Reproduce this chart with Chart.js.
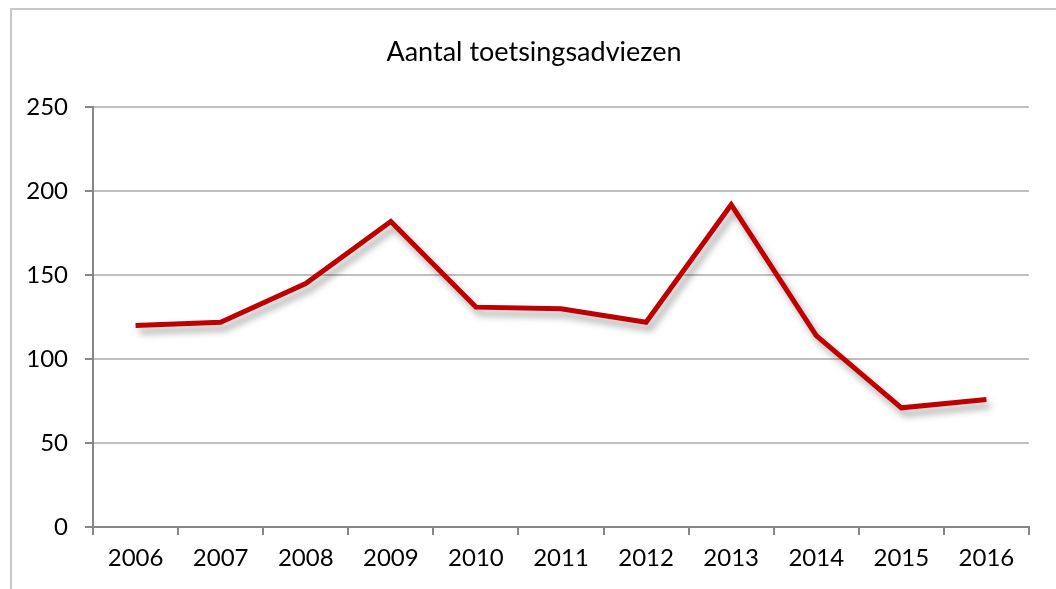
<!DOCTYPE html>
<html>
<head>
<meta charset="utf-8">
<script src="https://cdn.jsdelivr.net/npm/chart.js@4"></script>
<style>
  html, body { margin: 0; padding: 0; background: #fff; }
  #wrap { width: 1056px; height: 589px; }
</style>
</head>
<body>
<div id="wrap"><canvas id="chart" width="1056" height="589"></canvas></div>
<script>
const years = ['2006', '2007', '2008', '2009', '2010', '2011', '2012', '2013', '2014', '2015', '2016'];
const adviezen = [120, 122, 145, 182, 131, 130, 122, 192, 114, 71, 76];
const yTicks = [0, 50, 100, 150, 200, 250];

const fontFamily = 'Lato, "Open Sans", sans-serif';

// light frame round the whole chart
const framePlugin = {
  id: 'frame',
  beforeDraw(chart) {
    const ctx = chart.ctx;
    ctx.save();
    ctx.strokeStyle = '#c8c8c8';
    ctx.lineWidth = 2;
    ctx.strokeRect(11, 9, 1200, 800);
    ctx.restore();
  }
};

// soft shadow under the line
const shadowPlugin = {
  id: 'lineShadow',
  beforeDatasetsDraw(chart) {
    const ctx = chart.ctx;
    ctx.save();
    ctx.shadowColor = 'rgba(0,0,0,0.35)';
    ctx.shadowBlur = 7;
    ctx.shadowOffsetX = 4;
    ctx.shadowOffsetY = 6;
  },
  afterDatasetsDraw(chart) {
    chart.ctx.restore();
  }
};

new Chart(document.getElementById('chart'), {
  type: 'line',
  data: {
    labels: years,
    datasets: [{
      label: 'Aantal toetsingsadviezen',
      data: adviezen,
      borderColor: '#c00000',
      borderWidth: 5,
      borderJoinStyle: 'miter',
      tension: 0,
      pointRadius: 0,
      fill: false
    }]
  },
  options: {
    responsive: false,
    animation: false,
    layout: { padding: { left: 12, right: 0, top: 0, bottom: 0 } },
    plugins: {
      legend: { display: false },
      tooltip: { enabled: false },
      title: {
        display: true,
        text: 'Aantal toetsingsadviezen',
        color: '#000',
        font: { family: fontFamily, size: 27, weight: 'normal' },
        padding: { top: 36, bottom: 39 }
      }
    },
    scales: {
      x: {
        offset: true,
        grid: {
          offset: true,
          drawOnChartArea: true,
          color: ctx => ctx.index === years.length ? '#bfbfbf' : 'rgba(0,0,0,0)',
          lineWidth: 2,
          tickColor: '#878787',
          tickLength: 8
        },
        border: { color: '#878787', width: 2 },
        ticks: {
          color: '#000',
          font: { family: fontFamily, size: 24 },
          padding: 9,
          maxRotation: 0
        },
        afterFit(scale) { scale.height = 62; }
      },
      y: {
        min: 0,
        max: 250,
        afterBuildTicks(scale) { scale.ticks = yTicks.map(v => ({ value: v })); },
        grid: {
          color: '#bfbfbf',
          lineWidth: 2,
          tickColor: '#878787',
          tickLength: 8
        },
        border: { color: '#878787', width: 2 },
        ticks: {
          color: '#000',
          font: { family: fontFamily, size: 24 },
          padding: 17
        },
        afterFit(scale) { scale.width = 81; }
      },
      // empty strip on the right so the title sits where the original has it
      spacer: {
        type: 'linear',
        position: 'right',
        grid: { display: false },
        border: { display: false },
        ticks: { display: false },
        afterFit(scale) { scale.width = 27; }
      }
    }
  },
  plugins: [framePlugin, shadowPlugin]
});
</script>
</body>
</html>
